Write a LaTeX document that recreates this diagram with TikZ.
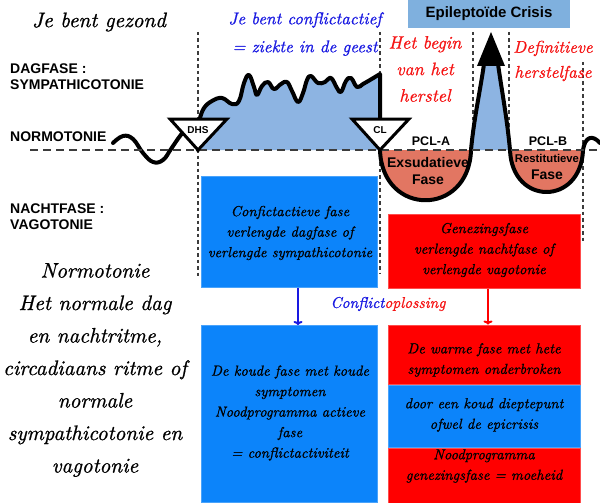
\documentclass[tikz,border=0pt]{standalone}
\usepackage{fontspec}
\newfontfamily\labelsans{Liberation Sans}
\newfontfamily\handfont[FakeBold=0.9]{lmroman10-italic.otf}
\usetikzlibrary{arrows.meta,positioning}
\definecolor{areablue}{RGB}{141,180,226}
\definecolor{crisisblue}{RGB}{127,176,222}
\definecolor{bowlred}{RGB}{226,118,98}
\definecolor{boxblue}{RGB}{12,132,250}
\definecolor{boxred}{RGB}{255,0,0}
\definecolor{titleblue}{RGB}{25,25,225}
\definecolor{textred}{RGB}{245,20,20}
\definecolor{guidegray}{RGB}{60,60,60}

\tikzset{
  guide/.style={guidegray, line width=2.2pt, dash pattern=on 3.5pt off 3pt},
  normline/.style={guidegray, line width=1.4pt, dash pattern=on 8pt off 5pt},
  phaseline/.style={draw=black, line width=4pt, line cap=round, line join=round},
  marker/.style={fill=white, draw=black, line width=3pt, line join=miter},
  markertext/.style={font=\labelsans\bfseries\fontsize{10}{12}\selectfont, inner sep=0pt},
  phaselabel/.style={font=\labelsans\bfseries\fontsize{14}{16}\selectfont, align=left, anchor=west, inner sep=0pt},
  bowltext/.style={font=\labelsans\bfseries\fontsize{14}{17}\selectfont, align=center, inner sep=0pt},
  handtext/.style={align=center, inner sep=0pt},
  bluebox/.style={fill=boxblue, draw=boxblue!75!white, line width=1pt, minimum width=176pt},
  redbox/.style={fill=boxred, draw=boxred!70!white, line width=1pt, minimum width=192pt},
  boxtext/.style={font=\handfont\fontsize{14.5}{20.5}\selectfont, align=center, text=black, inner sep=0pt},
  flowarrow/.style={line width=2pt, -{To[length=4pt,width=9pt]}}
}

\begin{document}
\begin{tikzpicture}[x=1pt,y=-1pt]
  \useasboundingbox (0,0) rectangle (600,503);

  % Guide lines
  \foreach \gx/\gtop/\gbot in {198/32/276, 380/32/273, 473/32/150, 509/32/150, 583/62/243}
    \draw[guide] (\gx,\gtop) -- (\gx,\gbot);

  % Conflict active phase
  \filldraw[phaseline, fill=areablue] (198,150) -- plot[smooth, tension=0.7] coordinates {
    (200,118) (204,108) (212,101) (222,98) (232,104) (239,101) (244,83) (249,75)
    (254,87) (257,95) (262,86) (268,82) (274,89) (281,84) (287,82) (292,91)
    (298,102) (303,93) (307,80) (311,76) (318,83) (325,82) (331,78) (337,88)
    (341,92) (346,81) (351,78) (357,87) (363,84) (370,80) (380,74)} -- (380,150);
  \draw[phaseline] plot[smooth, tension=0.7] coordinates {
    (113,143) (123,136) (133,139) (143,153) (153,162) (163,160) (171,149)
    (180,136) (190,124)};

  % Healing phases
  \fill[bowlred] (380,150) .. controls (382,217) and (469,217) .. (471,150) -- cycle;
  \fill[bowlred] (510,150) .. controls (512,206) and (581,206) .. (583,150) -- cycle;
  \fill[areablue] (471,150) .. controls (474,118) and (480,92) .. (484,64)
    -- (498,64) .. controls (502,92) and (507,118) .. (510,150) -- cycle;
  \draw[phaseline] (380,150) .. controls (382,217) and (469,217) .. (471,150)
    .. controls (474,118) and (480,92) .. (484,64);
  \draw[phaseline] (498,64) .. controls (502,92) and (507,118) .. (510,150)
    .. controls (512,206) and (581,206) .. (583,150)
    .. controls (585,137) and (592,134) .. (600,143);
  \fill (477,66) -- (491,32) -- (505,66) -- cycle;

  % Normotonia line
  \draw[normline] (30,150) -- (600,150);

  % DHS and CL
  \filldraw[marker] (170,119) -- (227,119) -- (198,150) -- cycle;
  \node[markertext] (dhs) at (198,130) {DHS};
  \filldraw[marker] (352,119) -- (409,119) -- (380,150) -- cycle;
  \node[markertext] (cl) at (380,130) {CL};

  % Crisis
  \node[fill=crisisblue, minimum width=162pt, minimum height=28pt,
    font=\labelsans\bfseries\fontsize{15}{18}\selectfont] (crisis) at (489,14) {Epileptoïde Crisis};

  % Labels
  \node[phaselabel] (daglabel) at (10,77) {DAGFASE :\\SYMPATHICOTONIE};
  \node[phaselabel] (normlabel) at (10,137) {NORMOTONIE};
  \node[phaselabel] (nachtlabel) at (10,216.5) {NACHTFASE :\\VAGOTONIE};
  \node[font=\labelsans\bfseries\fontsize{12.5}{14}\selectfont] (pcla) at (431,141) {PCL-A};
  \node[font=\labelsans\bfseries\fontsize{12.5}{14}\selectfont] (pclb) at (548,141) {PCL-B};
  \node[bowltext] (exsud) at (428,171) {Exsudatieve\\Fase};
  \node[bowltext] (restit) at (547,167) {{\fontsize{11.3}{14}\selectfont Restitutieve}\\Fase};

  \node[handtext, font=\handfont\fontsize{21}{25}\selectfont] (healthy) at (99,22) {Je bent gezond};
  \node[handtext, font=\handfont\fontsize{17}{28}\selectfont, text=titleblue] (conflict) at (305,34)
    {Je bent conflictactief\\= ziekte in de geest};
  \node[handtext, font=\handfont\fontsize{18}{26.5}\selectfont, text=textred] (begin) at (425,69)
    {Het begin\\van het\\herstel};
  \node[handtext, font=\handfont\fontsize{17}{25}\selectfont, text=textred] (final) at (553,61)
    {Definitieve\\herstelfase};
  \node[handtext, font=\handfont\fontsize{21}{32.5}\selectfont] (normtext) at (95,370)
    {Normotonie\\Het normale dag\\en nachtritme,\\circadiaans ritme of\\normale\\sympathicotonie en\\vagotonie};

  % Boxes
  \node[bluebox, minimum height=111pt] (activebox) at (289,231.5) {};
  \node[redbox, minimum height=74pt] (healbox) at (484,251) {};
  \node[bluebox, minimum height=177pt] (coldbox) at (289,414) {};
  \node[redbox, minimum height=59pt] (warmbox) at (484,354.5) {};
  \node[bluebox, minimum width=192pt, minimum height=62pt, below=0pt of warmbox] (dipbox) {};
  \node[redbox, minimum height=56pt, below=0pt of dipbox] (tiredbox) {};

  \node[boxtext] (activetext) at (290,233) {Confictactieve fase\\verlengde dagfase of\\verlengde sympathicotonie};
  \node[boxtext] (healtext) at (484,250) {Genezingsfase\\verlengde nachtfase of\\verlengde vagotonie};
  \node[boxtext] (coldtext) at (290,413) {De koude fase met koude\\symptomen\\Noodprogramma actieve\\fase\\= conflictactiviteit};
  \node[boxtext] (warmtext) at (484,360) {De warme fase met hete\\symptomen onderbroken};
  \node[boxtext] (diptext) at (484,415) {door een koud dieptepunt\\ofwel de epicrisis};
  \node[boxtext] (tiredtext) at (484,466) {Noodprogramma\\genezingsfase = moeheid};

  % Conflict resolution
  \draw[flowarrow, titleblue] ([xshift=9pt]activebox.south) -- ([xshift=9pt]coldbox.north);
  \draw[flowarrow, boxred] ([xshift=4pt]healbox.south) -- ([xshift=4pt]warmbox.north);
  \node[handtext, font=\handfont\fontsize{15.5}{18}\selectfont] (solving) at (388,304)
    {\textcolor{titleblue}{Conflict}\textcolor{textred}{oplossing}};
\end{tikzpicture}
\end{document}
